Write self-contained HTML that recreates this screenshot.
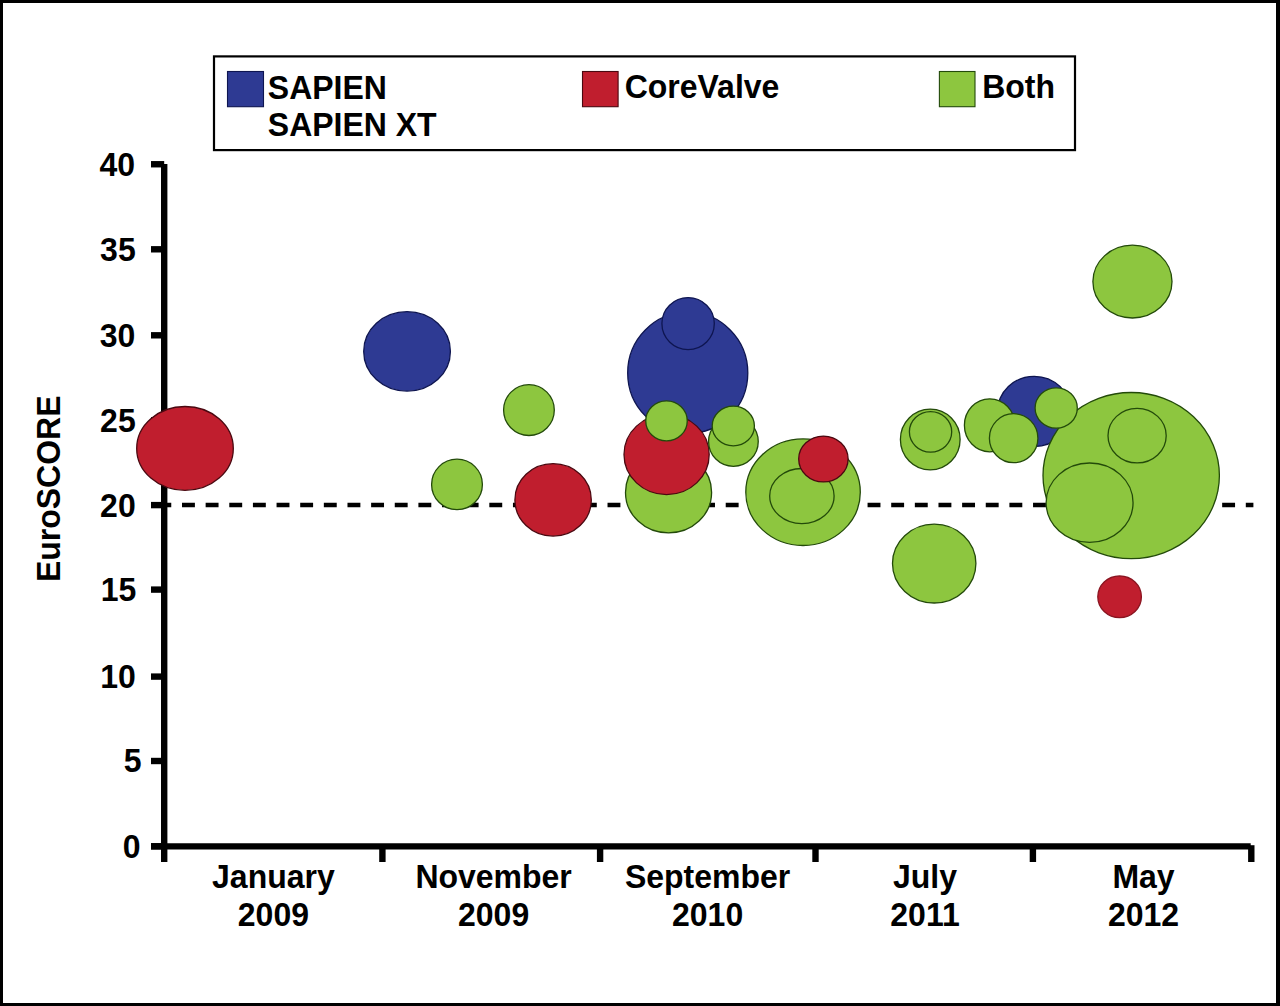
<!DOCTYPE html><html><head><meta charset="utf-8"><title>EuroSCORE bubble chart</title><style>
html,body{margin:0;padding:0;background:#fff;}
#frame{position:relative;width:1280px;height:1006px;overflow:hidden;background:#fff;}
#frame svg{position:absolute;left:0;top:0;}
text{font-family:"Liberation Sans",Arial,Helvetica,sans-serif;font-weight:bold;fill:#000;}
</style></head><body><div id="frame">
<svg width="1280" height="1006" viewBox="0 0 1280 1006">
<rect x="0" y="0" width="1280" height="1006" fill="#fff"/>
<path d="M0 0H1280V1006H0Z M3 3V1003H1276V3Z" fill="#000" fill-rule="evenodd"/>
<rect x="214" y="56.4" width="861" height="93.7" fill="#fff" stroke="#000" stroke-width="2.2"/>
<rect x="227.5" y="71.5" width="36" height="35.2" fill="#2E3A93" stroke="#0e1550" stroke-width="1.1"/>
<rect x="582.5" y="71.5" width="35.6" height="35.2" fill="#C01E2E" stroke="#4a0810" stroke-width="1.1"/>
<rect x="939.4" y="71.5" width="35.6" height="35.2" fill="#8DC63F" stroke="#234a0a" stroke-width="1.1"/>
<text transform="translate(267.80,98.60) scale(1,1.04)" font-size="32">SAPIEN</text>
<text transform="translate(267.80,135.90) scale(1,1.04)" font-size="32">SAPIEN XT</text>
<text transform="translate(624.70,98.40) scale(1,1.04)" font-size="32">CoreValve</text>
<text transform="translate(982.20,98.40) scale(1,1.04)" font-size="32">Both</text>
<g stroke="#000" stroke-width="6.4" fill="none">
<line x1="164.2" y1="164" x2="164.2" y2="862"/>
<line x1="151" y1="846.4" x2="1250.7" y2="846.4"/>
<line x1="151" y1="846.30" x2="164.2" y2="846.30"/>
<line x1="151" y1="761.00" x2="164.2" y2="761.00"/>
<line x1="151" y1="676.60" x2="164.2" y2="676.60"/>
<line x1="151" y1="589.60" x2="164.2" y2="589.60"/>
<line x1="151" y1="505.10" x2="164.2" y2="505.10"/>
<line x1="151" y1="420.30" x2="164.2" y2="420.30"/>
<line x1="151" y1="335.30" x2="164.2" y2="335.30"/>
<line x1="151" y1="249.30" x2="164.2" y2="249.30"/>
<line x1="151" y1="164.25" x2="164.2" y2="164.25"/>
<line x1="382.4" y1="846.4" x2="382.4" y2="862"/>
<line x1="600.1" y1="846.4" x2="600.1" y2="862"/>
<line x1="815.5" y1="846.4" x2="815.5" y2="862"/>
<line x1="1032.9" y1="846.4" x2="1032.9" y2="862"/>
<line x1="1251.3" y1="845.2" x2="1251.3" y2="862"/>
</g>
<line x1="158.36" y1="505.1" x2="1253.4" y2="505.1" stroke="#000" stroke-width="4.5" stroke-dasharray="12.9 10.74"/>
<ellipse cx="185.0" cy="448.4" rx="48.30" ry="41.90" fill="#C01E2E" stroke="#4a0810" stroke-width="1.3"/>
<ellipse cx="407.05" cy="351.4" rx="43.35" ry="39.70" fill="#2E3A93" stroke="#0e1550" stroke-width="1.3"/>
<ellipse cx="457.0" cy="484.45" rx="25.40" ry="25.25" fill="#8DC63F" stroke="#234a0a" stroke-width="1.3"/>
<ellipse cx="528.95" cy="410.1" rx="25.35" ry="25.40" fill="#8DC63F" stroke="#234a0a" stroke-width="1.3"/>
<ellipse cx="553.1" cy="499.9" rx="38.20" ry="36.20" fill="#C01E2E" stroke="#4a0810" stroke-width="1.3"/>
<ellipse cx="687.75" cy="372.9" rx="60.05" ry="60.70" fill="#2E3A93" stroke="#0e1550" stroke-width="1.3"/>
<ellipse cx="688.1" cy="323.6" rx="26.20" ry="26.00" fill="#2E3A93" stroke="#0e1550" stroke-width="1.3"/>
<ellipse cx="668.55" cy="492.4" rx="43.05" ry="40.50" fill="#8DC63F" stroke="#234a0a" stroke-width="1.3"/>
<ellipse cx="666.6" cy="454.5" rx="42.60" ry="40.10" fill="#C01E2E" stroke="#4a0810" stroke-width="1.3"/>
<ellipse cx="666.5" cy="420.9" rx="20.75" ry="20.00" fill="#8DC63F" stroke="#234a0a" stroke-width="1.3"/>
<ellipse cx="733.4" cy="441.6" rx="24.85" ry="24.70" fill="#8DC63F" stroke="#234a0a" stroke-width="1.3"/>
<ellipse cx="733.3" cy="426.0" rx="21.10" ry="19.85" fill="#8DC63F" stroke="#234a0a" stroke-width="1.3"/>
<ellipse cx="803.05" cy="492.2" rx="57.25" ry="53.30" fill="#8DC63F" stroke="#234a0a" stroke-width="1.3"/>
<ellipse cx="801.9" cy="496.05" rx="32.20" ry="27.55" fill="#8DC63F" stroke="#234a0a" stroke-width="1.3"/>
<ellipse cx="823.4" cy="459.0" rx="24.70" ry="22.90" fill="#C01E2E" stroke="#4a0810" stroke-width="1.3"/>
<ellipse cx="930.25" cy="439.5" rx="29.85" ry="30.40" fill="#8DC63F" stroke="#234a0a" stroke-width="1.3"/>
<ellipse cx="930.55" cy="431.85" rx="21.15" ry="20.25" fill="#8DC63F" stroke="#234a0a" stroke-width="1.3"/>
<ellipse cx="934.2" cy="563.6" rx="41.70" ry="39.40" fill="#8DC63F" stroke="#234a0a" stroke-width="1.3"/>
<ellipse cx="1034.2" cy="411.4" rx="36.50" ry="35.10" fill="#2E3A93" stroke="#0e1550" stroke-width="1.3"/>
<ellipse cx="989.7" cy="425.3" rx="25.30" ry="26.50" fill="#8DC63F" stroke="#234a0a" stroke-width="1.3"/>
<ellipse cx="1013.65" cy="438.2" rx="24.25" ry="24.50" fill="#8DC63F" stroke="#234a0a" stroke-width="1.3"/>
<ellipse cx="1132.45" cy="281.6" rx="39.55" ry="36.40" fill="#8DC63F" stroke="#234a0a" stroke-width="1.3"/>
<ellipse cx="1131.2" cy="475.55" rx="88.20" ry="83.05" fill="#8DC63F" stroke="#234a0a" stroke-width="1.3"/>
<ellipse cx="1137.1" cy="435.65" rx="29.10" ry="27.25" fill="#8DC63F" stroke="#234a0a" stroke-width="1.3"/>
<ellipse cx="1089.6" cy="502.7" rx="43.45" ry="39.70" fill="#8DC63F" stroke="#234a0a" stroke-width="1.3"/>
<ellipse cx="1056.2" cy="408.0" rx="21.10" ry="20.20" fill="#8DC63F" stroke="#234a0a" stroke-width="1.3"/>
<ellipse cx="1119.6" cy="596.8" rx="21.80" ry="20.80" fill="#C01E2E" stroke="#8a1420" stroke-width="1.3"/>
<text transform="translate(135.10,175.65) scale(1,1.04)" font-size="32" text-anchor="end">40</text>
<text transform="translate(135.70,260.70) scale(1,1.04)" font-size="32" text-anchor="end">35</text>
<text transform="translate(135.30,346.70) scale(1,1.04)" font-size="32" text-anchor="end">30</text>
<text transform="translate(135.70,431.70) scale(1,1.04)" font-size="32" text-anchor="end">25</text>
<text transform="translate(135.70,516.50) scale(1,1.04)" font-size="32" text-anchor="end">20</text>
<text transform="translate(136.40,601.00) scale(1,1.04)" font-size="32" text-anchor="end">15</text>
<text transform="translate(135.80,688.00) scale(1,1.04)" font-size="32" text-anchor="end">10</text>
<text transform="translate(141.60,772.40) scale(1,1.04)" font-size="32" text-anchor="end">5</text>
<text transform="translate(140.60,857.70) scale(1,1.04)" font-size="32" text-anchor="end">0</text>
<text transform="translate(273.40,888.40) scale(1,1.04)" font-size="32" text-anchor="middle">January</text>
<text transform="translate(273.40,925.70) scale(1,1.04)" font-size="32" text-anchor="middle">2009</text>
<text transform="translate(493.60,888.40) scale(1,1.04)" font-size="32" text-anchor="middle">November</text>
<text transform="translate(493.60,925.70) scale(1,1.04)" font-size="32" text-anchor="middle">2009</text>
<text transform="translate(707.60,888.40) scale(1,1.04)" font-size="32" text-anchor="middle">September</text>
<text transform="translate(707.60,925.70) scale(1,1.04)" font-size="32" text-anchor="middle">2010</text>
<text transform="translate(925.00,888.40) scale(1,1.04)" font-size="32" text-anchor="middle">July</text>
<text transform="translate(925.00,925.70) scale(1,1.04)" font-size="32" text-anchor="middle">2011</text>
<text transform="translate(1143.50,888.40) scale(1,1.04)" font-size="32" text-anchor="middle">May</text>
<text transform="translate(1143.50,925.70) scale(1,1.04)" font-size="32" text-anchor="middle">2012</text>
<text transform="translate(60.2,488.8) rotate(-90) scale(1,1.04)" font-size="32" text-anchor="middle">EuroSCORE</text>
</svg></div></body></html>
